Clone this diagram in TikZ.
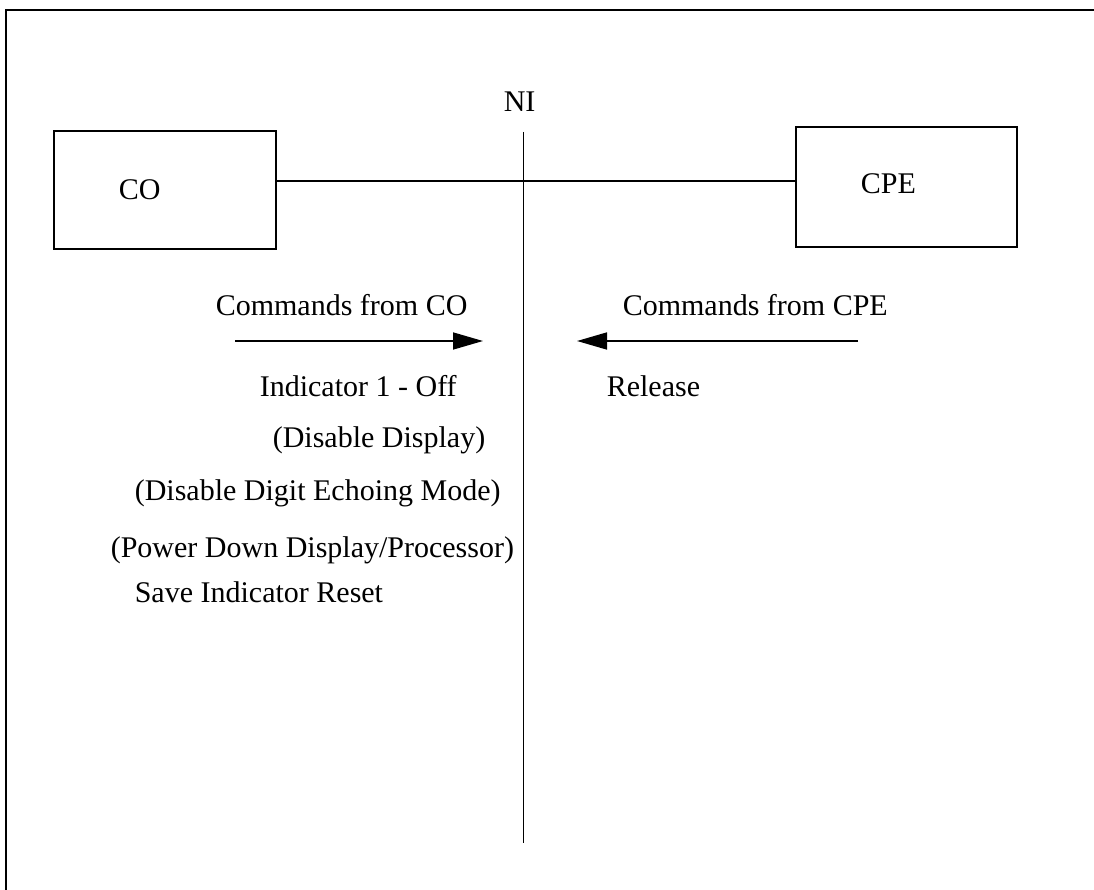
\documentclass[tikz,border=0pt]{standalone}
\usepackage{fontspec}
\setmainfont{Liberation Serif}
\usetikzlibrary{arrows.meta}
\begin{document}
\begin{tikzpicture}[x=1pt,y=-1pt,line width=1.6pt,
  unit/.style={draw,minimum width=#1,inner sep=0pt},
  lbl/.style={anchor=base west,inner sep=0pt,font=\fontsize{30}{36}\selectfont},
  flow/.style={-{Triangle[length=30pt,width=17pt]}}]
\useasboundingbox (0,0) rectangle (1094,890);
% open frame (top and left sides)
\draw (6,905) -- (6,10) -- (1110,10);

% end units
\node[unit=222pt,minimum height=118pt] (co) at (165,190) {};
\node[unit=221pt,minimum height=120pt] (cpe) at (906.5,187) {};
\node[lbl] (colbl) at (118,200) {CO};
\node[lbl] (cpelbl) at (860,194) {CPE};

% line between the units
\coordinate (link) at (0,181);
\draw (co.east |- link) -- (cpe.west |- link);

% network interface
\node[lbl] (ni) at (503,112) {NI};
\coordinate (nitop) at (523.5,132);
\coordinate (nibot) at (523.5,843);
\draw (nitop) -- (nibot);

% commands in each direction
\node[lbl] (fromco) at (215,316) {Commands from CO};
\node[lbl] (fromcpe) at (622,316) {Commands from CPE};
\coordinate (a1s) at (235,341);
\coordinate (a1e) at (483,341);
\coordinate (a2s) at (858,341);
\coordinate (a2e) at (577,341);
\draw[flow] (a1s) -- (a1e);
\draw[flow] (a2s) -- (a2e);

\node[lbl] (ind) at (259,396) {Indicator 1 - Off};
\node[lbl] (rel) at (606,396) {Release};
\node[lbl] (disp) at (272,447) {(Disable Display)};
\node[lbl] (echo) at (134,500) {(Disable Digit Echoing Mode)};
\node[lbl] (power) at (110,557) {(Power Down Display/Processor)};
\node[lbl] (save) at (134,602) {Save Indicator Reset};
\end{tikzpicture}
\end{document}
